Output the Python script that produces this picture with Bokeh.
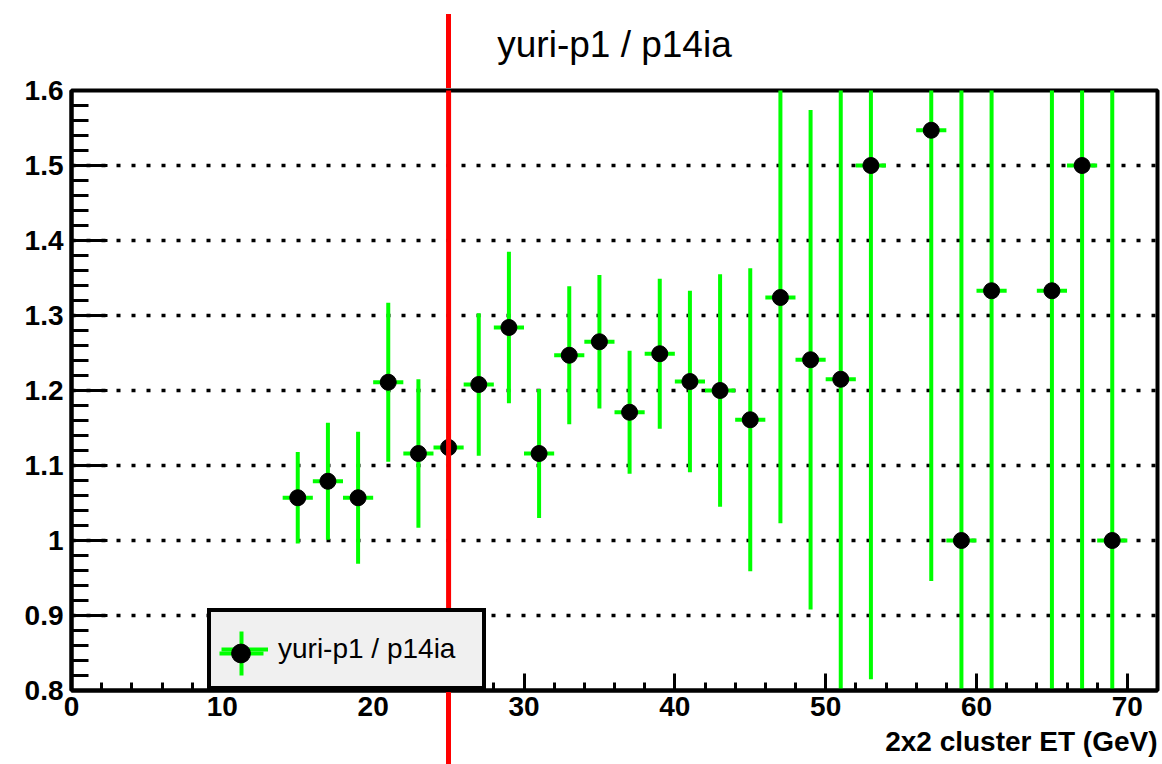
import numpy as np
from bokeh.plotting import figure
from bokeh.models import (Range1d, SingleIntervalTicker, PrintfTickFormatter, Title,
                          Legend, LegendItem, ColumnDataSource, InlineStyleSheet)
from bokeh.embed import file_html
from bokeh.resources import INLINE

# ---- data ----
et_bins = [15, 17, 19, 21, 23, 25, 27, 29, 31, 33, 35, 37, 39,
           41, 43, 45, 47, 49, 51, 53, 57, 59, 61, 65, 67, 69]
ratio = [1.057, 1.079, 1.057, 1.211, 1.116, 1.124, 1.208, 1.284, 1.116, 1.247, 1.265, 1.171, 1.249,
         1.212, 1.200, 1.161, 1.324, 1.241, 1.215, 1.500, 1.547, 1.000, 1.333, 1.333, 1.500, 1.000]
ratio_err = [0.061, 0.078, 0.088, 0.106, 0.099, 0.095, 0.095, 0.101, 0.086, 0.092, 0.089, 0.082, 0.100,
             0.121, 0.155, 0.202, 0.301, 0.333, 0.500, 0.685, 0.601, 1.000, 1.000, 1.000, 1.000, 1.000]
bin_half_width = 1.0
et_cut = 25
series_label = "yuri-p1 / p14ia"
x_title = "2x2 cluster ET (GeV)"
x_min, x_max = 0, 72
y_min, y_max = 0.8, 1.6

x = np.array(et_bins, dtype=float)
y = np.array(ratio)
e = np.array(ratio_err)
src = ColumnDataSource(dict(x=x, y=y, x_lo=x - bin_half_width, x_hi=x + bin_half_width,
                            y_lo=y - e, y_hi=y + e))

FONT = "Liberation Sans"
GREEN = "#00ff00"

# layout geometry (pixels)
W, H = 1160, 764
FRAME_L, FRAME_R, FRAME_T, FRAME_B = 71, 1157, 90, 690
frame_w, frame_h = FRAME_R - FRAME_L, FRAME_B - FRAME_T
px_per_x = frame_w / (x_max - x_min)
px_per_y = frame_h / (y_max - y_min)

# legend geometry (pixels, relative to the frame's bottom-left corner)
leg_x, leg_y = 136, 0
pad, gw, gh = 10, 47, 54
leg_h = 2 * pad + gh
cross_len = 44

p = figure(width=W, height=H, output_backend="svg", toolbar_location=None,
           x_range=Range1d(x_min, x_max), y_range=Range1d(y_min, y_max),
           min_border_left=FRAME_L, min_border_right=W - FRAME_R,
           min_border_top=FRAME_T, min_border_bottom=H - FRAME_B,
           title=series_label)
p.background_fill_color = "white"
p.border_fill_color = "white"
p.title.align = "center"
p.title.vertical_align = "top"
p.title.text_font = FONT
p.title.text_font_size = "37px"
p.title.text_font_style = "normal"
p.title.text_color = "black"
p.title.standoff = 47

p.outline_line_color = "black"
p.outline_line_width = 4
p.outline_line_alpha = 1.0

p.xgrid.visible = False
p.ygrid.grid_line_color = "black"
p.ygrid.grid_line_width = 3.5
p.ygrid.grid_line_dash = "4 11"

# error bars and points
vbar = p.segment(x0="x", y0="y_lo", x1="x", y1="y_hi", source=src,
                 line_color=GREEN, line_width=4)
hbar = p.segment(x0="x_lo", y0="y", x1="x_hi", y1="y", source=src,
                 line_color=GREEN, line_width=4)
pts = p.scatter("x", "y", source=src, size=16, fill_color="black", line_color="black")

# red cut line inside the frame (drawn over the points, stopping at the legend box)
cut_y0 = y_min + (leg_y + leg_h + 2) / px_per_y
p.segment(x0=[et_cut], y0=[cut_y0], x1=[et_cut], y1=[y_max + 0.1],
          line_color="red", line_width=5)

# the cut line continues above and below the frame
cut_px = FRAME_L + (et_cut - x_min) * px_per_x
css = f"""
:host::before, :host::after {{
  content: ""; position: absolute; left: {cut_px - 2.5:.1f}px; width: 5px;
  background: #ff0000; z-index: 5; pointer-events: none;
}}
:host::before {{ top: 14px; height: {FRAME_T - 2 - 14}px; }}
:host::after {{ top: {FRAME_B + 2}px; height: {H - FRAME_B - 2}px; }}
"""
p.stylesheets = [InlineStyleSheet(css=css)]

# axes
xa = p.xaxis[0]
xa.ticker = SingleIntervalTicker(interval=10, num_minor_ticks=5)
xa.major_label_standoff = 6
xa.major_tick_in = 17
xa.major_tick_out = 0
xa.minor_tick_in = 8
xa.minor_tick_out = 0

ya = p.yaxis[0]
ya.ticker = SingleIntervalTicker(interval=0.1, num_minor_ticks=5)
ya.formatter = PrintfTickFormatter(format="%.3g")
ya.major_label_standoff = 8
ya.major_tick_in = 36
ya.major_tick_out = 0
ya.minor_tick_in = 17
ya.minor_tick_out = 0

for ax in (xa, ya):
    ax.axis_line_width = 4
    ax.axis_line_color = "black"
    ax.major_tick_line_width = 3
    ax.minor_tick_line_width = 3
    ax.major_tick_line_color = "black"
    ax.minor_tick_line_color = "black"
    ax.major_label_text_font = FONT
    ax.major_label_text_font_size = "28px"
    ax.major_label_text_font_style = "bold"
    ax.major_label_text_color = "black"

# x-axis title, right-aligned at the frame's right edge
p.add_layout(Title(text=x_title, align="right", text_font=FONT, text_font_size="28px",
                   text_font_style="bold", text_color="black", standoff=11), "below")

# legend: box + horizontal bar + label, then green cross, then marker on top
key_cx, key_cy = leg_x + pad + gw / 2, leg_y + pad + gh / 2
leg_common = dict(spacing=0, margin=0, label_text_font=FONT, label_text_font_size="28px",
                  label_text_color="black")
leg1 = Legend(items=[LegendItem(label=series_label, renderers=[hbar])],
              location=(leg_x, leg_y), padding=pad, glyph_width=gw, glyph_height=gh,
              label_standoff=10, label_width=194,
              background_fill_color="#f0f0f0", background_fill_alpha=1.0,
              border_line_color="black", border_line_width=4, border_line_alpha=1.0,
              **leg_common)
p.add_layout(leg1)

# legend-key proxy (hidden in the plot): a green "+" in the error-bar style
cross_key = p.scatter("x", "y", source=src, marker="cross", size=cross_len,
                      line_color=GREEN, line_width=4, visible=False)
big = int(round(cross_len / 0.4))
leg2 = Legend(items=[LegendItem(label=" ", renderers=[cross_key])],
              location=(key_cx - big / 2, key_cy - big / 2), padding=0,
              glyph_width=big, glyph_height=big, label_standoff=0, label_width=1,
              background_fill_alpha=0.0, border_line_alpha=0.0, **leg_common)
p.add_layout(leg2)

leg3 = Legend(items=[LegendItem(label=" ", renderers=[pts])],
              location=(leg_x, leg_y), padding=pad, glyph_width=gw, glyph_height=gh,
              label_standoff=10, label_width=194,
              background_fill_alpha=0.0, border_line_alpha=0.0, **leg_common)
p.add_layout(leg3)

open("out.html", "w").write(file_html(p, INLINE))
